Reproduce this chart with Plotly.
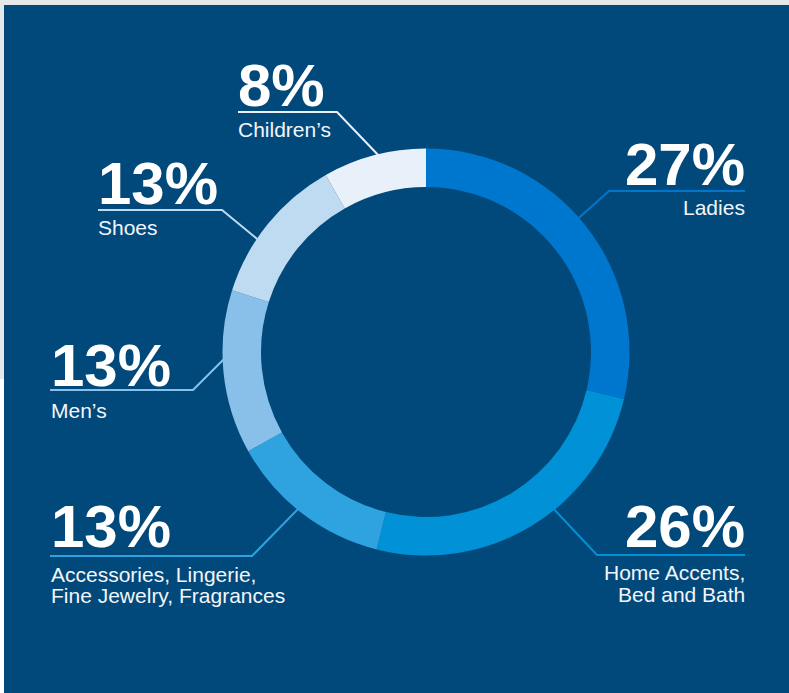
import plotly.graph_objects as go

W, H = 789, 693

# ---- data ----
categories = ["Ladies", "Home Accents, Bed and Bath", "Accessories, Lingerie, Fine Jewelry, Fragrances",
              "Men’s", "Shoes", "Children’s"]
pct_labels = ["27%", "26%", "13%", "13%", "13%", "8%"]
# slice sizes as drawn in the picture (measured angles)
slice_values = [28.7, 25.2, 13.0, 13.0, 11.9, 8.2]
sub_labels = [["Ladies"], ["Home Accents,", "Bed and Bath"],
              ["Accessories, Lingerie,", "Fine Jewelry, Fragrances"],
              ["Men’s"], ["Shoes"], ["Children’s"]]

colors = ["#0077ce", "#0091d7", "#2fa3e0", "#89c0ea", "#bedbf2", "#e8f0fa"]
BG = "#02497b"


def X(px):
    return px / W


def Y(py):
    return 1 - py / H


# pie geometry (pixels)
cx, cy, R, r_in = 426, 352, 203.5, 165

fig = go.Figure(go.Pie(
    values=slice_values,
    labels=categories,
    sort=False,
    direction="clockwise",
    rotation=0,
    hole=r_in / R,
    marker=dict(colors=colors, line=dict(width=0)),
    textinfo="none",
    hoverinfo="skip",
    showlegend=False,
    domain=dict(x=[X(cx - R), X(cx + R)], y=[Y(cy + R), Y(cy - R)]),
))

shapes = [
    dict(type="rect", xref="paper", yref="paper", x0=0, x1=1, y0=Y(5), y1=1,
         fillcolor="#e5e8eb", line=dict(width=0), layer="below"),
    dict(type="rect", xref="paper", yref="paper", x0=0, x1=X(4), y0=Y(379), y1=1,
         fillcolor="#e5e8eb", line=dict(width=0), layer="below"),
    dict(type="rect", xref="paper", yref="paper", x0=X(4), x1=1, y0=0, y1=Y(5),
         fillcolor=BG, line=dict(width=0), layer="below"),
]

# leader lines: (end of underline, corner, point into ring)
leaders = [
    [(745, 191), (609, 191), (572, 224)],
    [(745, 555), (597, 555), (550, 505)],
    [(50, 556), (252, 556), (300, 507)],
    [(50, 390), (193, 390), (228, 355)],
    [(98, 210), (222, 210), (262, 243)],
    [(238, 112), (337, 112), (381, 158)],
]
for pts, col in zip(leaders, colors):
    path = "M " + " L ".join(f"{X(px):.5f},{Y(py):.5f}" for px, py in pts)
    shapes.append(dict(type="path", xref="paper", yref="paper", path=path,
                       line=dict(color=col, width=2), layer="below"))

annotations = []
# percentage labels: (x, cap-center y, anchor)
pct_pos = [(745, 164, "right"), (745, 526, "right"), (51, 526, "left"),
           (51, 365, "left"), (98, 184, "left"), (238, 86, "left")]
sub_pos = [[(745, 207)], [(745, 572), (745, 594)], [(51, 574), (51, 595)],
           [(51, 410)], [(98, 228)], [(238, 129)]]
for i, (px, py, anc) in enumerate(pct_pos):
    annotations.append(dict(x=X(px), y=Y(py), xref="paper", yref="paper", text=pct_labels[i],
                            showarrow=False, xanchor=anc, yanchor="middle", borderpad=0, borderwidth=0,
                            font=dict(family="Liberation Sans", size=60, color="white", weight="bold")))
    for (sx, sy), line in zip(sub_pos[i], sub_labels[i]):
        annotations.append(dict(x=X(sx), y=Y(sy), xref="paper", yref="paper", text=line,
                                showarrow=False, xanchor=anc, yanchor="middle", borderpad=0, borderwidth=0,
                                font=dict(family="Liberation Sans", size=21, color="#f2f6fa")))

fig.update_layout(
    width=W, height=H,
    margin=dict(l=0, r=0, t=0, b=0),
    paper_bgcolor="white",
    plot_bgcolor="white",
    shapes=shapes,
    annotations=annotations,
)

fig.write_html("out.html", config={"displayModeBar": False, "staticPlot": True},
               post_script="document.body.style.margin='0';document.body.style.padding='0';")
